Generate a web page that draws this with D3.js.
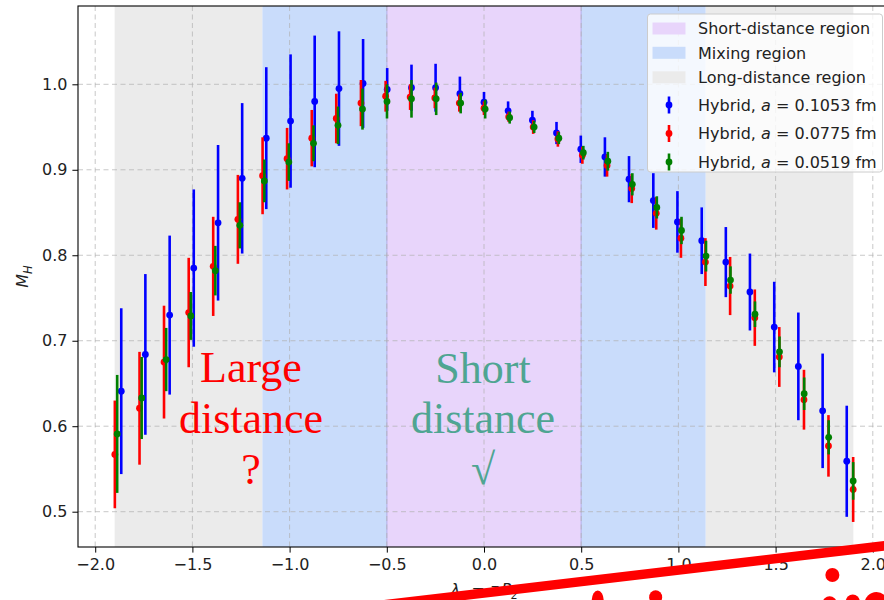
<!DOCTYPE html>
<html>
<head>
<meta charset="utf-8">
<script src="https://cdn.jsdelivr.net/npm/d3@7"></script>
<style>
  html, body { margin: 0; padding: 0; background: #fff; }
  svg { display: block; }
  text { font-family: "DejaVu Sans", sans-serif; }
</style>
</head>
<body>
<svg id="chart" width="884" height="600"></svg>
<script>
// ---------------- DATA ----------------
const xTicks = [-2.0, -1.5, -1.0, -0.5, 0.0, 0.5, 1.0, 1.5, 2.0];
const yTicks = [0.5, 0.6, 0.7, 0.8, 0.9, 1.0];

// regions (lambda ranges)
const shortRegion = [[-0.5, 0.5]];
const mixingRegion = [[-1.14, -0.5], [0.5, 1.14]];
const longRegion = [[-1.9, -1.14], [1.14, 1.9]];

const seriesNames = ["0.1053", "0.0775", "0.0519"];

const blueX = [-1.866, -1.742, -1.617, -1.493, -1.368, -1.244, -1.120, -0.995, -0.871, -0.746, -0.622, -0.498, -0.373, -0.249, -0.124, 0.000,
  0.124, 0.249, 0.373, 0.498, 0.622, 0.746, 0.871, 0.995, 1.120, 1.244, 1.368, 1.493, 1.617, 1.742, 1.866];
const blueY = [0.641, 0.684, 0.730, 0.785, 0.838, 0.890, 0.937, 0.957, 0.980, 0.995, 1.001, 0.994, 0.996, 0.996, 0.989, 0.979,
  0.969, 0.958, 0.943, 0.924, 0.915, 0.889, 0.864, 0.839, 0.817, 0.792, 0.757, 0.716, 0.670, 0.618, 0.559];
const blueErr = [0.097, 0.094, 0.093, 0.092, 0.091, 0.088, 0.083, 0.078, 0.077, 0.067, 0.052, 0.025, 0.027, 0.028, 0.020, 0.012,
  0.011, 0.011, 0.013, 0.016, 0.023, 0.027, 0.032, 0.036, 0.039, 0.041, 0.045, 0.053, 0.063, 0.067, 0.065];

const redX = [-1.899, -1.772, -1.646, -1.519, -1.393, -1.266, -1.139, -1.013, -0.886, -0.760, -0.633, -0.506, -0.380, -0.253, -0.127, 0.000,
  0.127, 0.253, 0.380, 0.506, 0.633, 0.760, 0.886, 1.013, 1.139, 1.266, 1.393, 1.519, 1.646, 1.772, 1.899];
const redY = [0.567, 0.621, 0.675, 0.733, 0.787, 0.842, 0.893, 0.913, 0.937, 0.960, 0.978, 0.986, 0.985, 0.984, 0.978, 0.972,
  0.962, 0.950, 0.936, 0.917, 0.905, 0.878, 0.849, 0.820, 0.792, 0.764, 0.727, 0.681, 0.631, 0.577, 0.526];
const redErr = [0.063, 0.066, 0.066, 0.064, 0.058, 0.052, 0.045, 0.036, 0.033, 0.029, 0.027, 0.018, 0.015, 0.012, 0.010, 0.008,
  0.006, 0.008, 0.009, 0.010, 0.013, 0.017, 0.019, 0.023, 0.028, 0.034, 0.033, 0.035, 0.035, 0.036, 0.038];

const greenX = [-1.887, -1.761, -1.635, -1.508, -1.382, -1.256, -1.130, -1.004, -0.877, -0.751, -0.625, -0.499, -0.373, -0.246, -0.120, 0.006,
  0.132, 0.258, 0.385, 0.511, 0.637, 0.763, 0.889, 1.016, 1.142, 1.268, 1.394, 1.520, 1.647, 1.773, 1.899];
const greenY = [0.591, 0.633, 0.678, 0.729, 0.782, 0.835, 0.887, 0.909, 0.931, 0.952, 0.971, 0.980, 0.983, 0.983, 0.978, 0.971,
  0.961, 0.950, 0.937, 0.920, 0.910, 0.883, 0.856, 0.829, 0.799, 0.771, 0.731, 0.687, 0.638, 0.587, 0.536];
const greenErr = [0.069, 0.048, 0.037, 0.028, 0.029, 0.027, 0.025, 0.022, 0.021, 0.022, 0.024, 0.020, 0.022, 0.019, 0.012, 0.011,
  0.007, 0.007, 0.007, 0.008, 0.011, 0.013, 0.013, 0.016, 0.018, 0.016, 0.015, 0.018, 0.019, 0.020, 0.022];

// annotation overlay (data coordinates)
const slashLine = [[-0.537, 0.3905], [2.087, 0.4608]];
const annotationDots = [
  {x: 0.585, y: 0.396, rx: 6, ry: 10},
  {x: 0.883, y: 0.400, rx: 6.5, ry: 7},
  {x: 1.792, y: 0.426, rx: 7, ry: 7},
  {x: 1.778, y: 0.393, rx: 7, ry: 7},
  {x: 1.897, y: 0.395, rx: 7, ry: 7},
  {x: 2.019, y: 0.392, rx: 12, ry: 12}
];

// ---------------- LAYOUT ----------------
const L = 78, R = 890, T = 6, B = 547;
const svg = d3.select("#chart");
const x = d3.scaleLinear().domain([-2.0885, 2.0885]).range([L, R]);
const y = d3.scaleLinear().domain([0.4587, 1.0916]).range([B, T]);

const COLORS = {
  short: "#e8d5fb",
  mixing: "#c9dcfb",
  long: "#ebebeb",
  blue: "#0000ff",
  red: "#ff0000",
  green: "#008000"
};

svg.append("defs").append("clipPath").attr("id", "clip")
  .append("rect").attr("x", L).attr("y", T).attr("width", R - L).attr("height", B - T);

const plot = svg.append("g").attr("clip-path", "url(#clip)");

function spans(ranges, color) {
  plot.selectAll(null).data(ranges).enter().append("rect")
    .attr("x", d => x(d[0])).attr("width", d => x(d[1]) - x(d[0]))
    .attr("y", T).attr("height", B - T)
    .attr("fill", color);
}
spans(longRegion, COLORS.long);
spans(mixingRegion, COLORS.mixing);
spans(shortRegion, COLORS.short);
// faint span edges
plot.selectAll(null).data([-0.5, 0.5]).enter().append("line")
  .attr("x1", d => x(d)).attr("x2", d => x(d)).attr("y1", T).attr("y2", B)
  .attr("stroke", "#a9a6e8").attr("stroke-opacity", 0.6).attr("stroke-width", 1.5);

// grid
const grid = plot.append("g").attr("stroke", "#b0b0b0").attr("stroke-opacity", 0.7)
  .attr("stroke-width", 1).attr("stroke-dasharray", "5,3.5");
grid.selectAll(null).data(xTicks).enter().append("line")
  .attr("x1", d => x(d)).attr("x2", d => x(d)).attr("y1", T).attr("y2", B);
grid.selectAll(null).data(yTicks).enter().append("line")
  .attr("y1", d => y(d)).attr("y2", d => y(d)).attr("x1", L).attr("x2", R);

// annotation texts (behind data)
const annot = plot.append("g").attr("font-family", "'Liberation Serif', 'DejaVu Serif', serif")
  .attr("font-size", 44).attr("text-anchor", "middle");
[["Large", 381.7], ["distance", 433.3], ["?", 484]].forEach(([t, by]) => {
  annot.append("text").attr("x", 251).attr("y", by).attr("fill", "#ff0000")
    .style("font-family", "'Liberation Serif', serif").text(t);
});
[["Short", 382.5], ["distance", 433.3], ["√", 484]].forEach(([t, by]) => {
  annot.append("text").attr("x", 483).attr("y", by).attr("fill", "#4fa592")
    .style("font-family", "'Liberation Serif', serif").text(t);
});

// error bars
function series(xs, ys, es, color) {
  const g = plot.append("g");
  const data = xs.map((v, i) => ({x: v, y: ys[i], e: es[i]}));
  g.selectAll("line").data(data).enter().append("line")
    .attr("x1", d => x(d.x)).attr("x2", d => x(d.x))
    .attr("y1", d => y(d.y - d.e)).attr("y2", d => y(d.y + d.e))
    .attr("stroke", color).attr("stroke-width", 2.6);
  g.selectAll("circle").data(data).enter().append("circle")
    .attr("cx", d => x(d.x)).attr("cy", d => y(d.y)).attr("r", 3.4)
    .attr("fill", color);
}
series(blueX, blueY, blueErr, COLORS.blue);
series(redX, redY, redErr, COLORS.red);
series(greenX, greenY, greenErr, COLORS.green);

// axes
const fmt = d3.format(".1f");
const xAxis = svg.append("g").attr("transform", `translate(0,${B})`)
  .call(d3.axisBottom(x).tickValues(xTicks).tickSize(5.6).tickPadding(6).tickFormat(fmt));
const yAxis = svg.append("g").attr("transform", `translate(${L},0)`)
  .call(d3.axisLeft(y).tickValues(yTicks).tickSize(5.6).tickPadding(5).tickFormat(fmt));
[xAxis, yAxis].forEach(a => {
  a.select(".domain").remove();
  a.selectAll(".tick line").attr("stroke", "#000").attr("stroke-width", 1);
  a.selectAll(".tick text").attr("font-size", 16).attr("fill", "#222")
    .attr("font-family", "'DejaVu Sans', sans-serif");
});
// spines
svg.append("rect").attr("x", L).attr("y", T).attr("width", R - L).attr("height", B - T)
  .attr("fill", "none").attr("stroke", "#000").attr("stroke-width", 1.1);

// axis labels
const yl = svg.append("text").attr("transform", `translate(28,${(T + B) / 2}) rotate(-90)`)
  .attr("text-anchor", "middle").attr("font-size", 16).attr("fill", "#222");
yl.append("tspan").attr("font-style", "italic").text("M");
yl.append("tspan").attr("font-style", "italic").attr("font-size", 11.5).attr("dy", 4).text("H");

const xl = svg.append("text").attr("x", 484).attr("y", 595)
  .attr("text-anchor", "middle").attr("font-size", 16).attr("fill", "#222");
xl.append("tspan").attr("font-style", "italic").text("λ");
xl.append("tspan").attr("font-style", "italic").attr("font-size", 11.5).attr("dy", 4).text("z");
xl.append("tspan").attr("dy", -4).text(" = ");
xl.append("tspan").attr("font-style", "italic").text("z");
xl.append("tspan").text("\u2009");
xl.append("tspan").attr("font-style", "italic").text("P");
xl.append("tspan").attr("font-style", "italic").attr("font-size", 11.5).attr("dy", 4).text("z");

// legend
const lg = svg.append("g");
lg.append("rect").attr("x", 647.5).attr("y", 14).attr("width", 235).attr("height", 158).attr("rx", 3)
  .attr("fill", "#fff").attr("fill-opacity", 0.8).attr("stroke", "#cccccc").attr("stroke-width", 1);
const patchItems = [
  {label: "Short-distance region", color: COLORS.short, cy: 28.5},
  {label: "Mixing region", color: COLORS.mixing, cy: 52.8},
  {label: "Long-distance region", color: COLORS.long, cy: 77.3}
];
patchItems.forEach(p => {
  lg.append("rect").attr("x", 652.5).attr("y", p.cy - 6).attr("width", 33).attr("height", 12)
    .attr("fill", p.color);
  lg.append("text").attr("x", 698).attr("y", p.cy + 5.8).attr("font-size", 16).attr("fill", "#222").text(p.label);
});
const seriesItems = [
  {name: seriesNames[0], color: COLORS.blue, cy: 105},
  {name: seriesNames[1], color: COLORS.red, cy: 133.5},
  {name: seriesNames[2], color: COLORS.green, cy: 162}
];
seriesItems.forEach(s => {
  lg.append("line").attr("x1", 669).attr("x2", 669).attr("y1", s.cy - 8.5).attr("y2", s.cy + 8.5)
    .attr("stroke", s.color).attr("stroke-width", 2.6);
  lg.append("circle").attr("cx", 669).attr("cy", s.cy).attr("r", 3.4).attr("fill", s.color);
  const t = lg.append("text").attr("x", 698).attr("y", s.cy + 5.8).attr("font-size", 16).attr("fill", "#222");
  t.append("tspan").text("Hybrid, ");
  t.append("tspan").attr("font-style", "italic").text("a");
  t.append("tspan").text(` = ${s.name} fm`);
});

// red hand-drawn overlay
svg.append("line")
  .attr("x1", x(slashLine[0][0])).attr("y1", y(slashLine[0][1]))
  .attr("x2", x(slashLine[1][0])).attr("y2", y(slashLine[1][1]))
  .attr("stroke", "#ff0000").attr("stroke-width", 9.5);
svg.selectAll(".dot").data(annotationDots).enter().append("ellipse")
  .attr("cx", d => x(d.x)).attr("cy", d => y(d.y)).attr("rx", d => d.rx).attr("ry", d => d.ry)
  .attr("fill", "#ff0000");
</script>
</body>
</html>
